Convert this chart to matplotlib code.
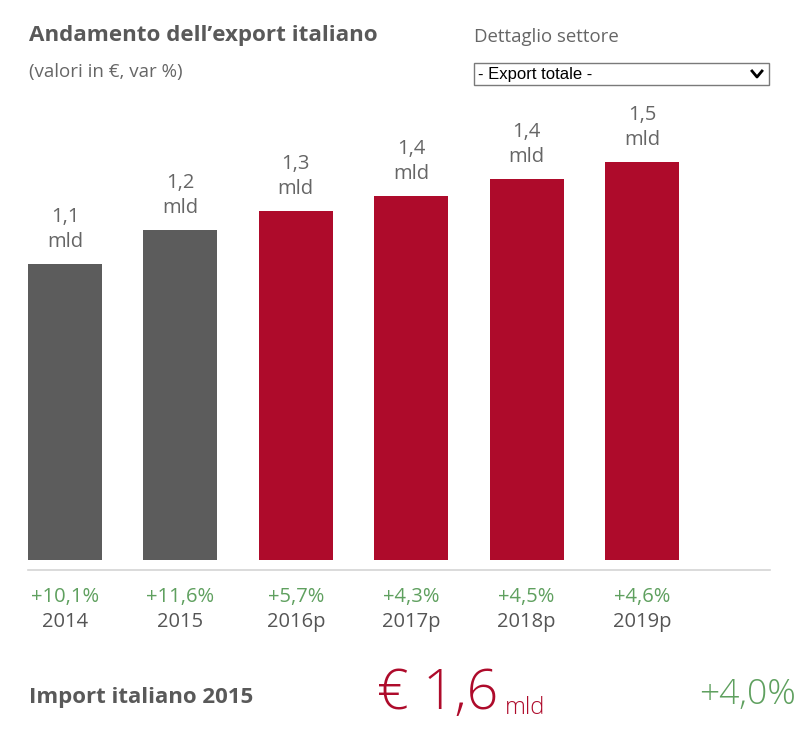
import matplotlib.pyplot as plt
from matplotlib.lines import Line2D
from matplotlib.patches import Rectangle

years = ['2014', '2015', '2016p', '2017p', '2018p', '2019p']
export_values = [1.117, 1.247, 1.318, 1.375, 1.436, 1.502]  # mld di euro
growth = ['+10,1%', '+11,6%', '+5,7%', '+4,3%', '+4,5%', '+4,6%']
is_forecast = [False, False, True, True, True, True]

import_label = 'Import italiano 2015'
import_value = '€ 1,6'
import_growth = '+4,0%'

RED = '#ae0b2b'
GRAY_BAR = '#5c5c5c'
GREEN = '#5fa05f'
TEXT = '#666666'
TITLE = '#595959'
BIG_FONT = ['Open Sans', 'DejaVu Sans']

W, H = 809, 740
plt.rcParams['font.family'] = ['Open Sans', 'DejaVu Sans']

fig = plt.figure(figsize=(W / 100, H / 100), dpi=100)
fig.patch.set_facecolor('white')


def fx(px):
    return px / W


def fy(py):
    return 1 - py / H


# bars area: baseline at 560px, from 28px to 770px
ax = fig.add_axes([fx(28), fy(560), fx(770) - fx(28), (560 - 100) / H])
bw = 0.641
colors = [RED if f else GRAY_BAR for f in is_forecast]
xs = list(range(len(years)))
ax.bar(xs, export_values, width=bw, color=colors)
ax.set_xlim(-bw / 2, 6.109)
ax.set_ylim(0, 460 / 265)
ax.axis('off')

for x, v in zip(xs, export_values):
    ax.annotate(f'{v:.1f}'.replace('.', ','), (x, v), xytext=(0, 47), textcoords='offset pixels',
                ha='center', va='center', fontsize=14.5, color=TEXT)
    ax.annotate('mld', (x, v), xytext=(0, 22), textcoords='offset pixels',
                ha='center', va='center', fontsize=14.5, color=TEXT)

tr = ax.get_xaxis_transform()
for x, g, y in zip(xs, growth, years):
    ax.text(x, -37 / 460, g, transform=tr, ha='center', va='center', fontsize=14.5, color=GREEN)
    ax.text(x, -62 / 460, y, transform=tr, ha='center', va='center', fontsize=14.5, color='#555555')

# separator line
fig.add_artist(Line2D([fx(28), fx(770)], [fy(570), fy(570)], color='#d4d4d4', lw=1.2))

# titles
fig.text(fx(29), fy(35), 'Andamento dell\u2019export italiano', fontsize=16.1, fontweight='bold',
         color=TITLE, va='center', ha='left')
fig.text(fx(29), fy(72), '(valori in €, var %)', fontsize=13.5, color=TEXT, va='center', ha='left')
fig.text(fx(474), fy(37), 'Dettaglio settore', fontsize=13.4, color=TEXT, va='center', ha='left')

# dropdown
fig.add_artist(Rectangle((fx(474), fy(85)), fx(769) - fx(474), (85 - 63) / H,
                         facecolor='white', edgecolor='#7a7a7a', lw=1))
fig.text(fx(478), fy(74), '- Export totale -', fontsize=12, color='black',
         family='Liberation Sans', va='center', ha='left')
fig.add_artist(Line2D([fx(752), fx(757), fx(762)], [fy(71), fy(77), fy(71)], color='black', lw=2))

# bottom summary
fig.text(fx(29), fy(697), import_label, fontsize=16, fontweight='bold', color=TITLE,
         va='center', ha='left')
fig.text(fx(498), fy(694), import_value, fontsize=40, color=RED, family=BIG_FONT,
         fontweight='light', va='center', ha='right')
fig.text(fx(505), fy(708), 'mld', fontsize=17, color=RED, family=BIG_FONT,
         fontweight='light', va='center', ha='left')
fig.text(fx(796), fy(695), import_growth, fontsize=25.5, color=GREEN, family=BIG_FONT,
         fontweight='light', va='center', ha='right')

fig.savefig('out.png', dpi=100)
